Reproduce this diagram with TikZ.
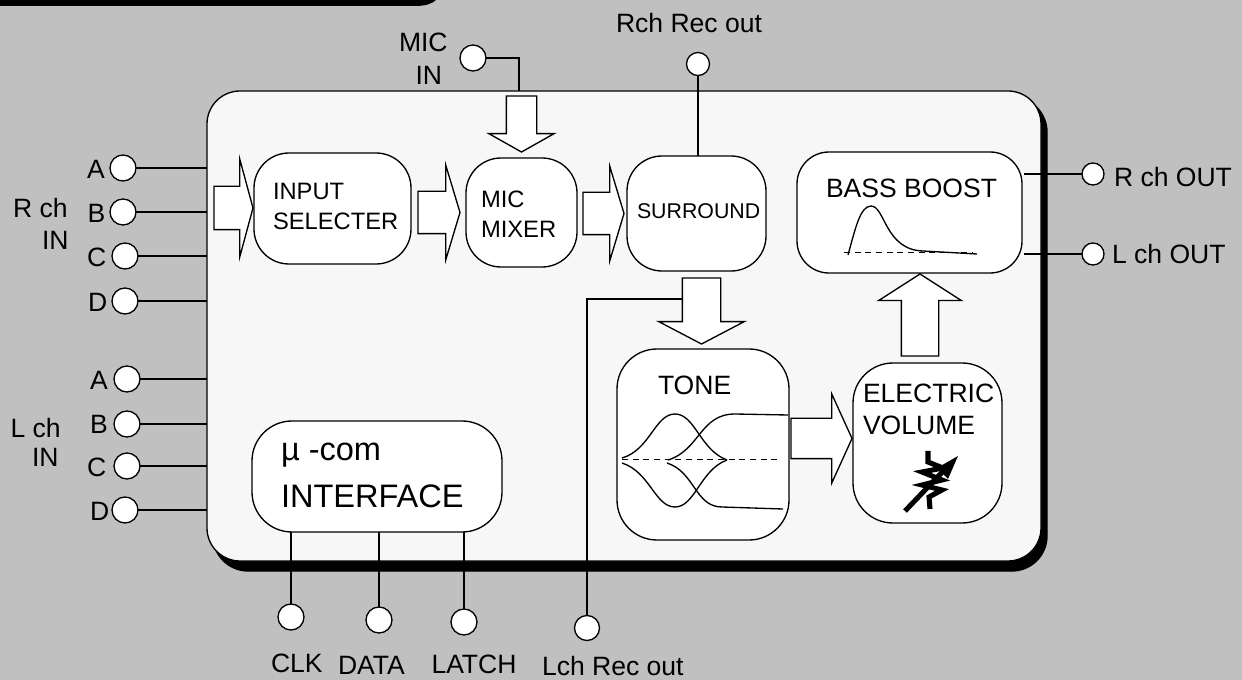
\documentclass[tikz,border=0pt]{standalone}
\usepackage{fontspec}
\setmainfont{Liberation Sans}
\usetikzlibrary{shapes.arrows}

\def\u{0.75pt}
\definecolor{panelgray}{HTML}{C0C0C0}
\definecolor{mainfill}{HTML}{F7F7F7}
\tikzset{
    block/.style={draw, fill=white, rectangle, rounded corners=#1*\u, inner sep=0pt, outer sep=0pt},
    block/.default=35,
    port/.style={circle, draw, fill=white, inner sep=0pt, outer sep=0pt, minimum size=#1*\u},
    port/.default=26,
    lbl/.style={anchor=base west, inner sep=0pt, outer sep=0pt, font=\fontsize{19.9}{20}\selectfont},
    blockarrow/.style n args={4}{single arrow, draw, fill=white, anchor=tail, inner xsep=0pt, inner ysep={#3/2*\u}, outer sep=0pt,
        text height=0pt, text depth=0pt, text width=0pt,
        single arrow head indent=0pt, minimum height=#1*\u, minimum width=#2*\u,
        single arrow head extend={(#2-#3)/2*\u}, single arrow tip angle={2*atan(#2/2/#4)}},
}

\begin{document}
\begin{tikzpicture}[x=\u, y=-\u, line width=1pt]
    \useasboundingbox (0,0) rectangle (1242,680);
    \fill[panelgray] (0,0) rectangle (1242,680);
    \fill[black] (0,0) -- (436,0) .. controls (432,4) and (425,6) .. (415,6) -- (0,6) -- cycle;

    % outer panel
    \node[block=35, fill=black, minimum width=834*\u, minimum height=474*\u] (shadow) at (630,334) {};
    \node[block=33, fill=mainfill, minimum width=834*\u, minimum height=470*\u] (main) at (624,326) {};

    % ports
    \node[port] (ra) at (123,168) {};
    \node[port] (rb) at (123,212) {};
    \node[port] (rc) at (125,256) {};
    \node[port] (rd) at (125,301) {};
    \node[port] (la) at (127,379) {};
    \node[port] (lb) at (127,424) {};
    \node[port] (lc) at (127,466) {};
    \node[port] (ld) at (125,510) {};
    \node[port] (micin) at (473,58) {};
    \node[port=23] (rrec) at (698,64) {};
    \node[port=25] (lrec) at (587,628) {};
    \node[port] (clk) at (291,617) {};
    \node[port] (data) at (379,620) {};
    \node[port] (latch) at (464,622) {};
    \node[port=22] (rout) at (1093,174) {};
    \node[port=22] (lout) at (1093,254) {};

    % blocks
    \node[block, minimum width=157*\u, minimum height=111*\u] (selecter) at (332.5,208.5) {};
    \node[block, minimum width=111*\u, minimum height=109*\u] (mixer) at (521.5,212.5) {};
    \node[block, minimum width=139*\u, minimum height=115*\u] (surround) at (696.5,213.5) {};
    \node[block=32, minimum width=225*\u, minimum height=121*\u] (bass) at (909.5,212.5) {};
    \node[block=40, minimum width=172*\u, minimum height=191*\u] (tone) at (703,444.5) {};
    \node[block=40, minimum width=149*\u, minimum height=160*\u] (volume) at (927.5,443) {};
    \node[block=40, minimum width=250*\u, minimum height=111*\u] (iface) at (377,476.5) {};

    \coordinate (mictap) at (519,91);
    \coordinate (lrectap) at (683,299);

    \foreach \p in {ra,rb,rc,rd,la,lb,lc,ld}
        \draw (\p) -- (\p -| main.west);
    \foreach \p in {clk,data,latch}
        \draw (\p) -- (\p |- iface.south);
    \draw (micin) -| (mictap);
    \draw (rrec) -- (rrec |- surround.north);
    \draw (lrec) |- (lrectap);
    \draw[shorten >=2*\u] (rout) -- (rout -| bass.east);
    \draw[shorten >=2*\u] (lout) -- (lout -| bass.east);

    % block arrows
    \node[blockarrow={39}{96}{42}{13}] (inarrow) at (214,208) {};
    \node[blockarrow={42}{93}{41}{14}] (selarrow) at (418,212.5) {};
    \node[blockarrow={56}{64}{29}{18}, rotate=-90] (micarrow) at (521.5,96) {};
    \node[blockarrow={41}{93}{41}{14}] (mixarrow) at (583,213.5) {};
    \node[blockarrow={66}{84}{37}{22}, rotate=-90] (surarrow) at (701.5,278) {};
    \node[blockarrow={61}{88}{39}{20}] (tonearrow) at (791,438.5) {};
    \node[blockarrow={82}{81}{36}{26}, rotate=90] (volarrow) at (920,356) {};

    % labels
    \node[lbl] (ta) at (87,179) {A};
    \node[lbl] (tb) at (87.5,223) {B};
    \node[lbl] (tc) at (87,267) {C};
    \node[lbl] (td) at (88,312) {D};
    \node[lbl] (trch) at (13,218) {R ch};
    \node[lbl] (trin) at (42,250) {IN};
    \node[lbl] (tla) at (90,390) {A};
    \node[lbl] (tlb) at (90,434) {B};
    \node[lbl] (tlc) at (87,477) {C};
    \node[lbl] (tld) at (90,521) {D};
    \node[lbl] (tlch) at (10.5,438) {L ch};
    \node[lbl] (tlin) at (32,467) {IN};
    \node[lbl] (tmic) at (399,52) {MIC};
    \node[lbl] (tmicin) at (415.5,85) {IN};
    \node[lbl] (trrec) at (616,33) {Rch Rec out};
    \node[lbl] (tlrec) at (542,675.5) {Lch Rec out};
    \node[lbl] (tclk) at (271,672) {CLK};
    \node[lbl] (tdata) at (338,674) {DATA};
    \node[lbl] (tlatch) at (431.5,673) {LATCH};
    \node[lbl] (trout) at (1114,187) {R ch OUT};
    \node[lbl] (tlout) at (1112,264) {L ch OUT};

    \node[lbl, font=\fontsize{17.8}{18}\selectfont] (tinput) at (273,200) {INPUT};
    \node[lbl, font=\fontsize{17.8}{18}\selectfont] (tsel) at (273,230) {SELECTER};
    \node[lbl, font=\fontsize{17.8}{18}\selectfont] (tmicb) at (481,208) {MIC};
    \node[lbl, font=\fontsize{17.8}{18}\selectfont] (tmix) at (481,238) {MIXER};
    \node[lbl, font=\fontsize{16}{16}\selectfont] (tsur) at (637,219) {SURROUND};
    \node[lbl] (tbass) at (826,198) {BASS BOOST};
    \node[lbl] (ttone) at (658,395) {TONE};
    \node[lbl] (telec) at (863,403) {ELECTRIC};
    \node[lbl] (tvol) at (863,435) {VOLUME};
    \node[lbl, font=\fontsize{24.4}{25}\selectfont] (tmu) at (281,461) {µ -com};
    \node[lbl, font=\fontsize{24.4}{25}\selectfont] (tif) at (281,508) {INTERFACE};

    % tone curves
    \draw[line width=0.7pt, dash pattern=on 4.5pt off 3.5pt] (622,459) -- (780,459);
    \draw (622,458) .. controls (650,450) and (655,414) .. (675,414) .. controls (695,414) and (700,450) .. (727,460);
    \draw (668,460) .. controls (700,450) and (700,414) .. (735,414) -- (788,415);
    \draw (622,463) .. controls (650,472) and (655,507) .. (675,507) .. controls (695,507) and (700,470) .. (727,460);
    \draw (667,463) .. controls (695,472) and (695,507) .. (722,507) -- (783,509);

    % bass curve
    \draw[line width=0.7pt, dash pattern=on 4.5pt off 3.5pt] (844,252) -- (973,252);
    \draw (848,255) .. controls (855,230) and (860,206) .. (871,206) .. controls (885,206) and (885,250) .. (923,251) -- (977,254);

    % volume symbol
    \draw[line width=3.8pt] (905,511) -- (950,464);
    \draw[line width=3.8pt] (928,451) -- (928,462) -- (943,468) -- (922,472) -- (942,480) -- (922,485) -- (942,490) -- (929,497) -- (930,509);
    \fill (958,456) -- (937,468) -- (948,479) -- cycle;
\end{tikzpicture}
\end{document}
